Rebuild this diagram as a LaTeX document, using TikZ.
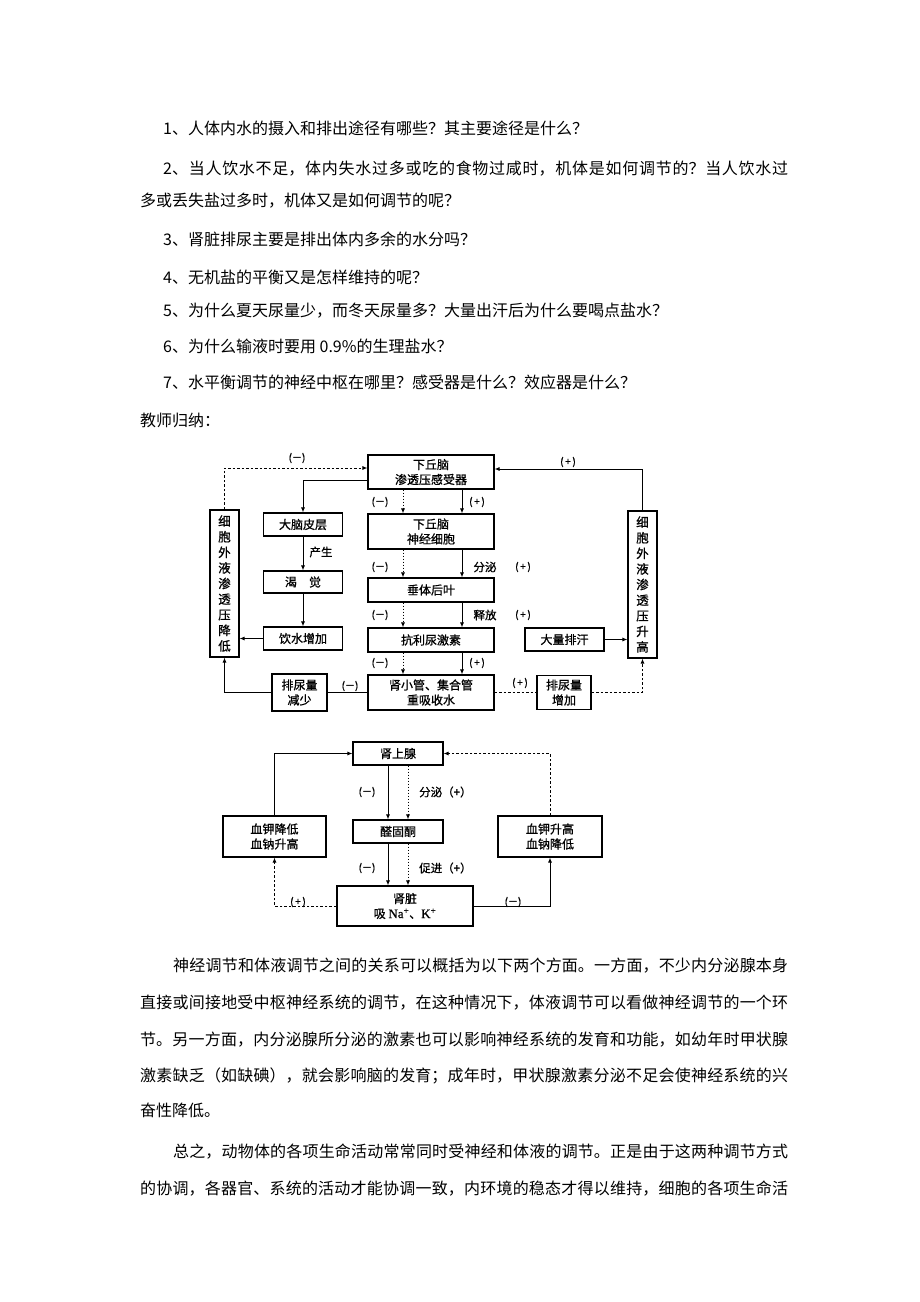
\documentclass[tikz,border=0pt]{standalone}
\usepackage{fontspec}
\setmainfont{Noto Sans CJK SC}
\newfontfamily\dfont[FakeBold=0.9]{Noto Sans CJK SC}
\newfontfamily\tnr[FakeBold=0.9]{Liberation Serif}
\usetikzlibrary{arrows.meta}
\XeTeXlinebreaklocale "zh"
\XeTeXlinebreakskip=0pt plus 4pt
\XeTeXlinebreakpenalty=0
\newcommand{\jline}[2]{\parbox{#1pt}{\hbadness=10000\parfillskip=0pt\relax #2}}
\begin{document}
\begin{tikzpicture}[x=1pt,y=-1pt,
  box/.style={draw, line width=1.1pt, inner sep=0pt, align=center, font=\dfont\fontsize{12}{15}\selectfont},
  vbox/.style={draw, line width=1.1pt, inner sep=0pt, align=center, font=\dfont\fontsize{12.5}{15.6}\selectfont, minimum width=29pt, minimum height=147pt},
  con/.style={line width=0.9pt},
  arr/.style={-{Latex[length=5pt,width=4pt]}},
  dsh/.style={dash pattern=on 2.5pt off 2pt},
  dt/.style={dash pattern=on 1.2pt off 1.8pt},
  lbl/.style={font=\dfont\fontsize{11.5}{11.5}\selectfont, inner sep=0pt},
  sgn/.style={font=\dfont\fontsize{10}{10}\selectfont, inner sep=0pt},
  txt/.style={anchor=west, inner sep=0pt, font=\fontsize{16}{16}\selectfont}]
\useasboundingbox[fill=white] (0,0) rectangle (920,1302);

% ---------- questions ----------
\node[txt] (q1) at (163,128) {1、人体内水的摄入和排出途径有哪些？其主要途径是什么？};
\node[txt] (q2) at (163,169) {\jline{625}{2、当人饮水不足，体内失水过多或吃的食物过咸时，机体是如何调节的？当人饮水过}};
\node[txt] (q2b) at (140,201) {多或丢失盐过多时，机体又是如何调节的呢？};
\node[txt] (q3) at (163,239) {3、肾脏排尿主要是排出体内多余的水分吗？};
\node[txt] (q4) at (163,277) {4、无机盐的平衡又是怎样维持的呢？};
\node[txt] (q5) at (163,311) {5、为什么夏天尿量少，而冬天尿量多？大量出汗后为什么要喝点盐水？};
\node[txt] (q6) at (163,346) {6、为什么输液时要用 0.9\%的生理盐水？};
\node[txt] (q7) at (163,382) {7、水平衡调节的神经中枢在哪里？感受器是什么？效应器是什么？};
\node[txt] (jsgn) at (140,420) {教师归纳：};

% ---------- water balance diagram ----------
\node[box, minimum width=126pt, minimum height=34pt] (hq) at (431,472) {下丘脑\\渗透压感受器};
\node[box, minimum width=126pt, minimum height=35pt] (hn) at (431,531.5) {下丘脑\\神经细胞};
\node[box, minimum width=126pt, minimum height=24pt] (pt) at (431,590) {垂体后叶};
\node[box, minimum width=126pt, minimum height=24pt] (adh) at (431,640) {抗利尿激素};
\node[box, minimum width=126pt, minimum height=35pt] (rt) at (431,692.5) {肾小管、集合管\\重吸收水};
\node[box, minimum width=79pt, minimum height=23pt] (cx) at (303,524.5) {大脑皮层};
\node[box, minimum width=79pt, minimum height=22pt] (th) at (303,582) {渴\hspace{1em}觉};
\node[box, minimum width=79pt, minimum height=23pt] (dr) at (303,638.5) {饮水增加};
\node[vbox] (lo) at (224.5,583.5) {细\\胞\\外\\液\\渗\\透\\压\\降\\低};
\node[vbox] (hi) at (642.5,584.5) {细\\胞\\外\\液\\渗\\透\\压\\升\\高};
\node[box, minimum width=79pt, minimum height=23pt] (sw) at (564.5,639.5) {大量排汗};
\node[box, minimum width=55pt, minimum height=37pt] (ud) at (299.5,692.5) {排尿量\\减少};
\node[box, minimum width=54pt, minimum height=34pt] (ui) at (564,692.5) {排尿量\\增加};

\draw[con,dsh,arr] (lo.north) |- ([yshift=4pt]hq.west);
\draw[con,arr] (hi.north) |- ([yshift=3pt]hq.east);
\draw[con,arr] ([yshift=-8pt]hq.west) -| (cx.north);
\draw[con,arr] (cx.south) -- (th.north);
\draw[con,arr] (th.south) -- (dr.north);
\draw[con,arr] (dr.west) -- (dr.west -| lo.east);
\draw[con] (rt.west) -- (ud.east);
\draw[con,arr] (ud.west) -| (lo.south);
\draw[con,dsh] (rt.east) -- (ui.west);
\draw[con,dsh,arr] (ui.east) -| (hi.south);
\draw[con,arr] (sw.east) -- (sw.east -| hi.west);

\foreach \a/\b in {hq/hn, hn/pt, pt/adh, adh/rt}{
  \draw[con,dt,arr] ([xshift=-28pt]\a.south) -- ([xshift=-28pt]\b.north);
  \draw[con,arr] ([xshift=31pt]\a.south) -- ([xshift=31pt]\b.north);
}

\node[sgn] (l1) at (297,458) {(－)};
\node[sgn] (l2) at (568,462) {(\,+\,)};
\node[lbl] (l3) at (321,552) {产生};
\node[sgn] (l4) at (380,502) {(－)};
\node[sgn] (l5) at (477,502) {(\,+\,)};
\node[sgn] (l6) at (380,567) {(－)};
\node[lbl] (l7) at (485,567) {分泌};
\node[sgn] (l8) at (523,567) {(\,+\,)};
\node[sgn] (l9) at (380,615) {(－)};
\node[lbl] (l10) at (485,615) {释放};
\node[sgn] (l11) at (523,615) {(\,+\,)};
\node[sgn] (l12) at (380,663) {(－)};
\node[sgn] (l13) at (477,663) {(\,+\,)};
\node[sgn] (l14) at (350,686) {(－)};
\node[sgn] (l15) at (520,683) {(\,+\,)};

% ---------- salt balance diagram ----------
\node[box, minimum width=90pt, minimum height=23pt] (ad) at (398,753.5) {肾上腺};
\node[box, minimum width=90pt, minimum height=23pt] (al) at (398,831.5) {醛固酮};
\node[box, minimum width=136pt, minimum height=40pt] (kd) at (405,906) {肾脏\\吸 {\tnr\fontsize{13}{15}\selectfont Na\textsuperscript{+}}、{\tnr\fontsize{13}{15}\selectfont K\textsuperscript{+}}};
\node[box, minimum width=103pt, minimum height=41pt] (kl) at (274.5,836.5) {血钾降低\\血钠升高};
\node[box, minimum width=104pt, minimum height=41pt] (kh) at (550,836.5) {血钾升高\\血钠降低};

\draw[con,arr] (kl.north) |- (ad.west);
\draw[con,dsh,arr] (kh.north) |- (ad.east);
\draw[con,arr] ([xshift=-10pt]ad.south) -- ([xshift=-10pt]al.north);
\draw[con,dt,arr] ([xshift=10pt]ad.south) -- ([xshift=10pt]al.north);
\draw[con,arr] ([xshift=-10pt]al.south) -- ([xshift=-10pt]al.south |- kd.north);
\draw[con,dt,arr] ([xshift=10pt]al.south) -- ([xshift=10pt]al.south |- kd.north);
\draw[con,dsh,arr] (kd.west) -| (kl.south);
\draw[con,arr] (kd.east) -| (kh.south);

\node[sgn] (m1) at (367,792) {(－)};
\node[lbl,anchor=west] (m2) at (419,792) {分泌（+）};
\node[sgn] (m3) at (367,868) {(－)};
\node[lbl,anchor=west] (m4) at (419,868) {促进（+）};
\node[sgn] (m5) at (298,902) {(\,+\,)};
\node[sgn] (m6) at (513,902) {(－)};

% ---------- paragraphs ----------
\node[txt] (p1) at (173,966) {\jline{615}{神经调节和体液调节之间的关系可以概括为以下两个方面。一方面，不少内分泌腺本身}};
\node[txt] (p2) at (140,1003) {\jline{648}{直接或间接地受中枢神经系统的调节，在这种情况下，体液调节可以看做神经调节的一个环}};
\node[txt] (p3) at (140,1040) {\jline{648}{节。另一方面，内分泌腺所分泌的激素也可以影响神经系统的发育和功能，如幼年时甲状腺}};
\node[txt] (p4) at (140,1076) {\jline{648}{激素缺乏（如缺碘），就会影响脑的发育；成年时，甲状腺激素分泌不足会使神经系统的兴}};
\node[txt] (p5) at (140,1110) {奋性降低。};
\node[txt] (p6) at (173,1152) {\jline{615}{总之，动物体的各项生命活动常常同时受神经和体液的调节。正是由于这两种调节方式}};
\node[txt] (p7) at (140,1189) {\jline{648}{的协调，各器官、系统的活动才能协调一致，内环境的稳态才得以维持，细胞的各项生命活}};
\end{tikzpicture}
\end{document}
